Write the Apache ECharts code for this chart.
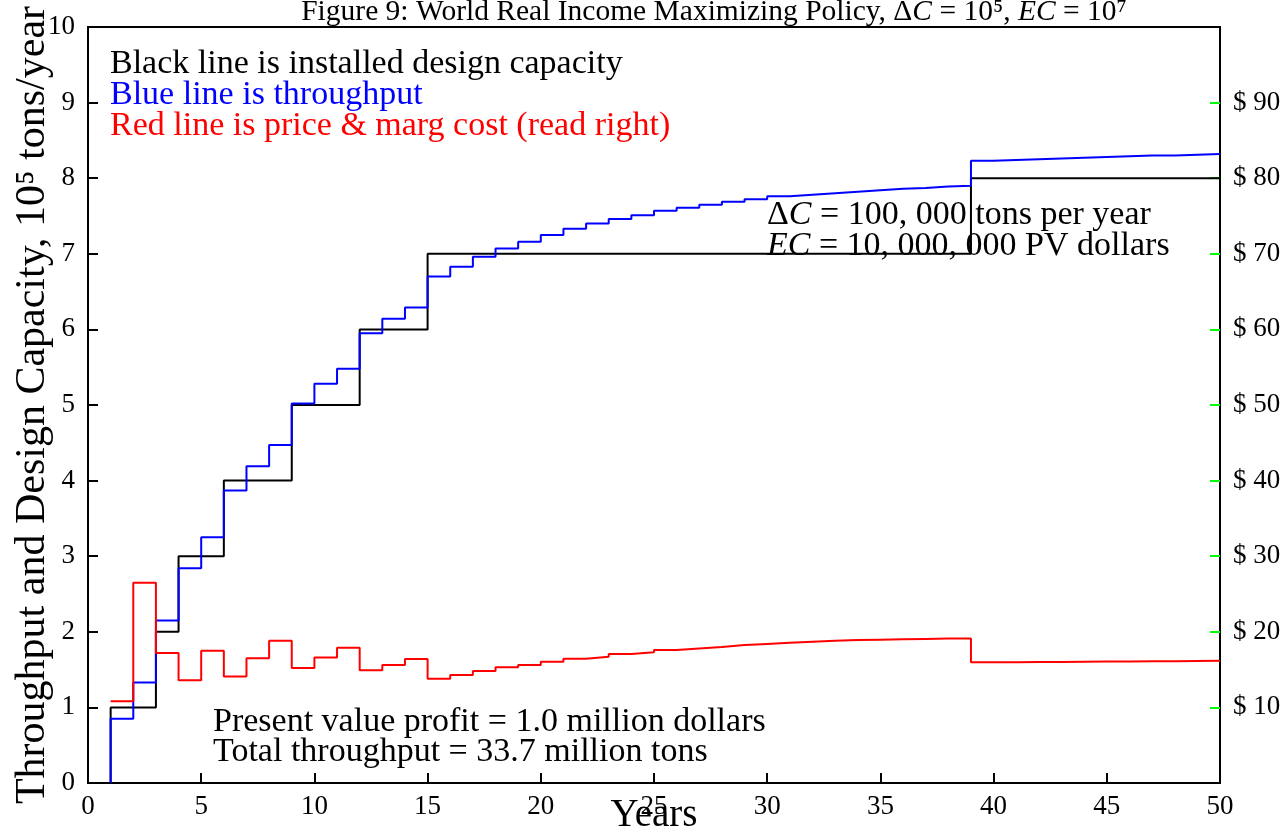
<!DOCTYPE html>
<html>
<head>
<meta charset="utf-8">
<script src="https://cdn.jsdelivr.net/npm/echarts@6/dist/echarts.min.js"></script>
<style>
  html, body { margin: 0; padding: 0; background: #fff; }
  #main { width: 1285px; height: 837px; }
</style>
</head>
<body>
<div id="main"></div>
<script>
// capacity steps: year the new level starts, and the level (10^5 tons/year)
const capacityStartYears = [1, 3, 4, 6, 9, 12, 15, 39];
const capacityLevels = [1, 2, 3, 4, 5, 6, 7, 8];

// throughput per year, years 1..49 (10^5 tons/year)
const throughput = [
  0.85, 1.33, 2.15, 2.84, 3.25, 3.87, 4.19, 4.47, 5.02, 5.28,
  5.48, 5.95, 6.14, 6.29, 6.70, 6.83, 6.96, 7.07, 7.16, 7.25,
  7.33, 7.40, 7.46, 7.51, 7.57, 7.61, 7.65, 7.69, 7.72, 7.76,
  7.78, 7.80, 7.82, 7.84, 7.86, 7.87, 7.89, 7.90, 8.23, 8.24,
  8.25, 8.26, 8.27, 8.28, 8.29, 8.30, 8.30, 8.31, 8.32
];

// price & marginal cost per year, years 1..49 (dollars, right axis)
const price = [
  10.8, 26.5, 17.2, 13.6, 17.5, 14.1, 16.5, 18.8, 15.2, 16.6,
  17.9, 14.9, 15.6, 16.4, 13.8, 14.3, 14.8, 15.3, 15.6, 16.05,
  16.45, 16.7, 17.05, 17.3, 17.6, 17.8, 18.0, 18.25, 18.4, 18.55,
  18.7, 18.8, 18.9, 18.95, 19.0, 19.05, 19.1, 19.13, 15.96, 15.98,
  16.0, 16.02, 16.04, 16.06, 16.08, 16.1, 16.12, 16.14, 16.16
];

const firstYear = 1;
const lastYear = 50;
const xTicks = [0, 5, 10, 15, 20, 25, 30, 35, 40, 45, 50];
const rightTicks = [10, 20, 30, 40, 50, 60, 70, 80, 90];

const FONT = "'Liberation Serif', 'DejaVu Serif', serif";

function yearSteps(values, startFromZero) {
  const pts = startFromZero ? [[firstYear, 0]] : [];
  values.forEach((v, i) => pts.push([firstYear + i, v]));
  pts.push([lastYear, values[values.length - 1]]);
  return pts;
}

const capacityData = [[capacityStartYears[0], 0]];
capacityStartYears.forEach((y, i) => capacityData.push([y, capacityLevels[i]]));
capacityData.push([lastYear, capacityLevels[capacityLevels.length - 1]]);

const chart = echarts.init(document.getElementById('main'), null, { renderer: 'canvas' });

const tickLabel = { fontFamily: FONT, fontSize: 27, color: '#000' };
const italic = { fontFamily: FONT, fontSize: 34, fontStyle: 'italic', fill: '#000' };

function note(text, x, y, color, rich) {
  return {
    type: 'text',
    z: 10,
    style: {
      text: text, x: x, y: y,
      fill: color,
      fontFamily: FONT, fontSize: 34,
      textVerticalAlign: 'middle',
      rich: rich || {}
    }
  };
}

chart.setOption({
  animation: false,
  backgroundColor: '#fff',
  grid: {
    left: 88, right: 65, top: 27, bottom: 54,
    outerBoundsMode: 'none', containLabel: false,
    show: true, borderColor: '#000', borderWidth: 2
  },
  xAxis: {
    type: 'value', min: 0, max: 50, interval: 5,
    name: 'Years', nameLocation: 'middle', nameGap: 13, nameMoveOverlap: false,
    nameTextStyle: { fontFamily: FONT, fontSize: 39, color: '#000' },
    axisLine: { lineStyle: { color: '#000', width: 2 } },
    axisTick: { inside: true, length: 10, lineStyle: { color: '#000', width: 2 } },
    axisLabel: Object.assign({ margin: 10, showMinLabel: true, showMaxLabel: true, customValues: xTicks }, tickLabel),
    splitLine: { show: false }
  },
  yAxis: [
    {
      type: 'value', min: 0, max: 10, interval: 1,
      name: 'Throughput and Design Capacity, 10\u2075 tons/year',
      nameLocation: 'middle', nameGap: 34, nameRotate: 90, nameMoveOverlap: false,
      nameTextStyle: { fontFamily: FONT, fontSize: 42, color: '#000' },
      axisLine: { show: true, lineStyle: { color: '#000', width: 2 } },
      axisTick: { show: true, inside: true, length: 10, lineStyle: { color: '#000', width: 2 } },
      axisLabel: Object.assign({ margin: 13, showMinLabel: true, showMaxLabel: true }, tickLabel),
      splitLine: { show: false }
    },
    {
      type: 'value', min: 0, max: 100, interval: 10, position: 'right',
      axisLine: { show: true, lineStyle: { color: '#000', width: 2 } },
      axisTick: { show: true, inside: true, length: 10, customValues: rightTicks,
        lineStyle: { color: '#00ff00', width: 2 } },
      axisLabel: Object.assign({ margin: 13, customValues: rightTicks,
        formatter: (v) => '$ ' + v }, tickLabel),
      splitLine: { show: false }
    }
  ],
  series: [
    {
      name: 'capacity', type: 'line', step: 'end', yAxisIndex: 0,
      data: capacityData, symbol: 'none',
      lineStyle: { color: '#000', width: 2 }
    },
    {
      name: 'throughput', type: 'line', step: 'end', yAxisIndex: 0,
      data: yearSteps(throughput, true), symbol: 'none',
      lineStyle: { color: '#0000ff', width: 2 }
    },
    {
      name: 'price', type: 'line', step: 'end', yAxisIndex: 1,
      data: yearSteps(price, false), symbol: 'none',
      lineStyle: { color: '#ff0000', width: 2 }
    }
  ],
  graphic: [
    {
      type: 'text', z: 10,
      style: {
        text: 'Figure 9: World Real Income Maximizing Policy, \u0394{i|C} = 10\u2075, {i|EC} = 10\u2077',
        x: 714, y: 12, textAlign: 'center', textVerticalAlign: 'middle',
        fill: '#000', fontFamily: FONT, fontSize: 29.5,
        rich: { i: { fontFamily: FONT, fontSize: 29.5, fontStyle: 'italic', fill: '#000' } }
      }
    },
    note('Black line is installed design capacity', 110, 64, '#000'),
    note('Blue line is throughput', 110, 95, '#0000ff'),
    note('Red line is price & marg cost (read right)', 110, 126, '#ff0000'),
    note('\u0394{i|C} = 100, 000 tons per year', 767, 215, '#000', { i: italic }),
    note('{i|EC} = 10, 000, 000 PV dollars', 767, 246, '#000', { i: italic }),
    note('Present value profit = 1.0 million dollars', 213, 722, '#000'),
    note('Total throughput = 33.7 million tons', 213, 752, '#000')
  ]
});
</script>
</body>
</html>
